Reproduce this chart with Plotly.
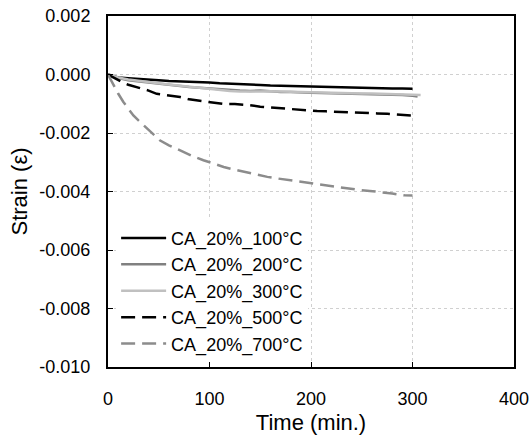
import plotly.graph_objects as go

# Time (min.) and strain values
t100 = [0, 5, 10, 20, 30, 40, 50, 60, 70, 80, 90, 100, 110, 120, 130, 140, 150, 160, 170, 180,
        190, 200, 210, 220, 230, 240, 250, 260, 270, 280, 290, 300]
s100 = [0, -0.00005, -0.0001, -0.00013, -0.00016, -0.00018, -0.0002, -0.00022, -0.00023, -0.00025,
        -0.00026, -0.00027, -0.0003, -0.00031, -0.00033, -0.00033, -0.00036, -0.00038, -0.00039, -0.0004,
        -0.00041, -0.00041, -0.00043, -0.00044, -0.00044, -0.00045, -0.00046, -0.00046, -0.00047, -0.00048,
        -0.00048, -0.00049]

t200 = [0, 10, 20, 30, 40, 50, 60, 70, 80, 90, 100, 110, 120, 130, 140, 150, 160, 170, 180, 190,
        200, 210, 220, 230, 240, 250, 260, 270, 280, 290, 300, 305]
s200 = [0, -0.00012, -0.0002, -0.00024, -0.00028, -0.00033, -0.00037, -0.0004, -0.00043, -0.00045,
        -0.00048, -0.0005, -0.00052, -0.00055, -0.00056, -0.00055, -0.00057, -0.0006, -0.0006, -0.00062,
        -0.00062, -0.00063, -0.00064, -0.00063, -0.00066, -0.00066, -0.00067, -0.00068, -0.00069, -0.0007,
        -0.00073, -0.00075]

t300 = [0, 10, 20, 30, 40, 50, 60, 70, 80, 90, 100, 110, 120, 130, 140, 150, 160, 170, 180, 190,
        200, 210, 220, 230, 240, 250, 260, 270, 280, 290, 300, 308]
s300 = [0, -0.0001, -0.00017, -0.00022, -0.00027, -0.0003, -0.00034, -0.00038, -0.00042, -0.00046,
        -0.0005, -0.00053, -0.00056, -0.00058, -0.00059, -0.00058, -0.00057, -0.00058, -0.0006, -0.0006,
        -0.00061, -0.00062, -0.00062, -0.00063, -0.00064, -0.00065, -0.00065, -0.00066, -0.00067, -0.00068,
        -0.00069, -0.0007]

t500 = [0, 5, 10, 15, 20, 25, 30, 40, 48, 55, 65, 71, 80, 91, 100, 114, 125, 137, 150, 160, 170,
        180, 190, 206, 215, 226, 236, 246, 256, 265, 275, 285, 295, 303]
s500 = [0, -0.0001, -0.0002, -0.00028, -0.00035, -0.0004, -0.00045, -0.00055, -0.00066, -0.0007,
        -0.00074, -0.00077, -0.00085, -0.0009, -0.00095, -0.00101, -0.00101, -0.00104, -0.0011, -0.00113,
        -0.00115, -0.00118, -0.0012, -0.00125, -0.00126, -0.00127, -0.00128, -0.0013, -0.00132, -0.00133,
        -0.00134, -0.00136, -0.00139, -0.00141]

t700 = [0, 3, 6, 10, 15, 20, 25, 30, 35, 42, 51, 60, 74, 84, 94, 104, 114, 124, 134, 146, 157, 168,
        180, 190, 199, 211, 223, 235, 246, 258, 269, 280, 292, 300]
s700 = [0, -0.0002, -0.0004, -0.00065, -0.00093, -0.00118, -0.0014, -0.00157, -0.00173, -0.00195,
        -0.00225, -0.00242, -0.00265, -0.0028, -0.00293, -0.00305, -0.00316, -0.00325, -0.00333, -0.00342,
        -0.0035, -0.00356, -0.00362, -0.00367, -0.00373, -0.00379, -0.00385, -0.0039, -0.00394, -0.00398,
        -0.00402, -0.00407, -0.00413, -0.00414]

names = ["CA_20%_100°C", "CA_20%_200°C", "CA_20%_300°C", "CA_20%_500°C", "CA_20%_700°C"]

x_ticks = [0, 100, 200, 300, 400]
y_ticks = [0.002, 0.0, -0.002, -0.004, -0.006, -0.008, -0.010]
y_tick_text = ["0.002", "0.000", "-0.002", "-0.004", "-0.006", "-0.008", "-0.010"]

xs = [t100, t200, t300, t500, t700]
ys = [s100, s200, s300, s500, s700]
colors = ["#000000", "#808080", "#c0c0c0", "#000000", "#8c8c8c"]
dashes = ["solid", "solid", "solid", "14px,7px", "14px,7px"]

fig = go.Figure()
for x, y, n, c, d in zip(xs, ys, names, colors, dashes):
    fig.add_trace(go.Scatter(x=x, y=y, name=n, mode="lines",
                             line=dict(color=c, width=2.5, dash=d)))

font = dict(family="Arial", size=18, color="#000000")
fig.update_layout(
    width=530, height=435,
    margin=dict(l=108, r=16, t=16, b=68),
    paper_bgcolor="white", plot_bgcolor="white",
    font=font,
    showlegend=True,
    legend=dict(x=0.02, y=0.015, xanchor="left", yanchor="bottom",
                bgcolor="white", font=font, tracegroupgap=0,
                itemwidth=45),
)
fig.update_xaxes(range=[0, 400], tickvals=x_ticks,
                 showline=True, linecolor="black", linewidth=2, mirror=True,
                 ticks="inside", ticklen=5, tickcolor="black", tickwidth=1,
                 showgrid=True, gridcolor="#d0d0d0", griddash="dot", gridwidth=1,
                 zeroline=False, automargin=False, ticklabelstandoff=14,
                 title=dict(text="Time (min.)", standoff=9),
                 tickfont=font)
fig.update_yaxes(range=[-0.010, 0.002], tickvals=y_ticks, ticktext=y_tick_text,
                 showline=True, linecolor="black", linewidth=2, mirror=True,
                 ticks="inside", ticklen=5, tickcolor="black", tickwidth=1,
                 showgrid=True, gridcolor="#d0d0d0", griddash="dot", gridwidth=1,
                 zeroline=False, automargin=False, ticklabelstandoff=12,
                 title=dict(text="Strain (ε)", standoff=6),
                 tickfont=font)

fig.write_html("out.html")
